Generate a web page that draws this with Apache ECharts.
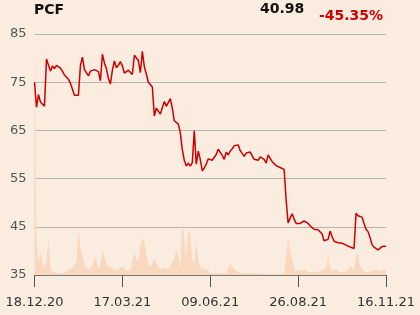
<!DOCTYPE html>
<html><head><meta charset="utf-8">
<script src="https://cdn.jsdelivr.net/npm/echarts@6/dist/echarts.min.js"></script>
<style>html,body{margin:0;padding:0;background:#fbece0;}#c{width:420px;height:315px;}</style>
</head><body><div id="c"></div>
<script>
const title = 'PCF';
const lastValue = '40.98';
const changeText = '-45.35%';
const dateLabels = ['18.12.20','17.03.21','09.06.21','26.08.21','16.11.21'];
const price = [
75.0, 69.8, 72.4, 70.9, 70.6, 70.0, 79.8, 80.0, 77.3, 78.4,
77.8, 78.5, 78.4, 77.9, 77.3, 76.5, 76.2, 75.6, 74.8, 74.4,
72.3, 71.9, 72.3, 78.5, 80.2, 77.6, 77.6, 76.3, 77.3, 76.9,
77.6, 77.3, 77.2, 75.3, 80.8, 79.0, 77.8, 75.8, 74.6, 77.5,
79.4, 78.0, 78.5, 79.3, 78.4, 76.9, 77.0, 77.5, 77.9, 76.6,
80.6, 80.4, 79.5, 77.0, 81.4, 78.2, 76.7, 75.0, 74.8, 74.0,
68.0, 69.6, 69.0, 68.4, 68.0, 71.0, 70.0, 70.0, 71.6, 69.6,
67.0, 67.4, 66.3, 64.6, 61.0, 58.8, 57.6, 58.2, 57.6, 58.3,
64.9, 58.0, 60.7, 59.0, 56.6, 57.2, 58.0, 59.1, 58.9, 58.8,
58.6, 60.0, 61.1, 61.0, 59.8, 59.0, 60.5, 59.9, 60.7, 61.2,
61.8, 62.0, 62.0, 60.8, 60.5, 59.6, 60.3, 60.2, 60.5, 59.7,
59.0, 58.6, 58.8, 59.5, 59.8, 59.0, 58.2, 59.9, 59.2, 58.5,
58.1, 57.7, 57.5, 57.3, 57.2, 56.9, 50.5, 45.8, 46.8, 47.7,
46.6, 45.7, 45.5, 45.7, 45.9, 46.2, 46.4, 45.7, 45.2, 44.8,
44.5, 44.2, 44.4, 44.4, 43.5, 42.1, 42.1, 42.4, 44.1, 43.0,
42.0, 41.6, 41.7, 41.7, 41.6, 41.5, 41.2, 41.0, 40.8, 40.6,
40.5, 47.8, 47.3, 47.0, 47.0, 46.6, 44.5, 44.0, 42.8, 41.3,
40.8, 40.9, 40.2, 40.1, 40.9, 40.9, 40.98
];
const volume = [
235, 32, 14, 22, 12, 6, 14, 36, 8, 3,
2, 2, 2, 2, 2, 2, 3, 5, 5, 7,
10, 13, 44, 28, 27, 10, 8, 5, 7, 9,
18, 15, 7, 9, 25, 24, 11, 8, 7, 7,
6, 5, 5, 7, 9, 6, 4, 3, 5, 6,
22, 16, 14, 28, 37, 34, 20, 10, 8, 9,
16, 12, 8, 7, 5, 8, 7, 5, 6, 13,
16, 25, 19, 8, 54, 36, 16, 46, 40, 15,
11, 32, 14, 6, 9, 6, 7, 5, 2, 1.5,
2, 1.5, 2, 2, 1.5, 1.5, 1.5, 2, 12, 8,
6, 4, 3, 2, 2, 1.5, 1.5, 2, 1.5, 1.5,
1.5, 2, 1.5, 1.5, 1, 1, 1.5, 1, 1, 1.5,
1, 1, 1.5, 1, 1, 1.5, 20, 38, 23, 17,
7, 3, 5, 4, 4, 6, 5, 3, 3, 3,
3, 3, 3, 4, 5, 5, 8, 20, 6, 4,
5, 6, 5, 3, 3, 3, 3, 5, 9, 7,
5, 20, 22, 10, 5, 4, 3, 3, 3, 4,
5, 4, 5, 3, 5, 6, 5
];
const lastIdx = price.length - 1;
const step = lastIdx / (dateLabels.length - 1);
const priceData = price.map((v, i) => [i, v]);
const volData = volume.map((v, i) => [i, v]);

const chart = echarts.init(document.getElementById('c'), null, {renderer: 'canvas'});
chart.setOption({
  backgroundColor: '#fbece0',
  animation: false,
  grid: {left: 34.5, right: 34, top: 34, bottom: 40},
  graphic: [
    {type: 'text', left: 34, top: 3, style: {text: title, font: 'bold 14px "DejaVu Sans"', fill: '#111'}},
    {type: 'text', left: 260, top: 2, style: {text: lastValue, font: 'bold 14px "DejaVu Sans"', fill: '#111'}},
    {type: 'text', left: 319, top: 9, style: {text: changeText, font: 'bold 14px "DejaVu Sans"', fill: '#cc0000'}}
  ],
  xAxis: {
    type: 'value', min: 0, max: lastIdx, interval: step,
    axisLine: {show: true, lineStyle: {color: '#777', width: 1}},
    axisTick: {show: true, length: 12, lineStyle: {color: '#555'}},
    splitLine: {show: false},
    axisLabel: {
      margin: 21, fontSize: 13, fontFamily: 'DejaVu Sans', color: '#333',
      showMinLabel: true, showMaxLabel: true,
      formatter: v => dateLabels[Math.round(v / step)] || ''
    }
  },
  yAxis: [
    {
      type: 'value', min: 35, max: 85, interval: 10,
      axisLine: {show: false}, axisTick: {show: false},
      splitLine: {lineStyle: {color: '#b8b4b0', width: 1}},
      axisLabel: {margin: 8, fontSize: 13, fontFamily: 'DejaVu Sans', color: '#555'}
    },
    {type: 'value', min: 0, max: 240, show: false, splitLine: {show: false}}
  ],
  series: [
    {
      type: 'line', yAxisIndex: 1, data: volData, symbol: 'none',
      lineStyle: {width: 0}, areaStyle: {color: '#f8d8bf', opacity: 1}, z: 1
    },
    {
      type: 'line', yAxisIndex: 0, data: priceData, symbol: 'none',
      lineStyle: {color: '#cc0000', width: 1.5}, z: 3
    }
  ]
});
</script></body></html>
